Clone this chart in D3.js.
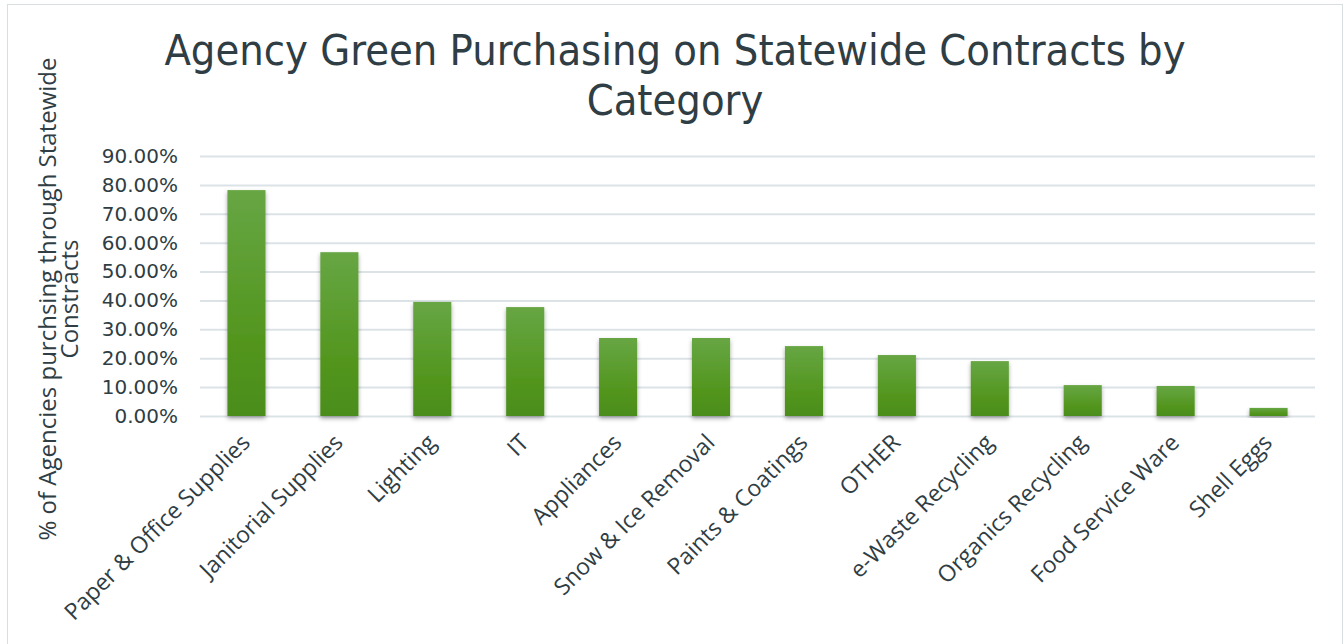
<!DOCTYPE html>
<html>
<head>
<meta charset="utf-8">
<script src="https://cdn.jsdelivr.net/npm/d3@7"></script>
<style>
  html, body { margin: 0; padding: 0; background: #ffffff; }
  svg { display: block; }
</style>
</head>
<body>
<svg id="chart" width="1344" height="644"></svg>
<script>
// Share of agencies buying green products through statewide contracts
const categories = [
  "Paper & Office Supplies", "Janitorial Supplies", "Lighting", "IT",
  "Appliances", "Snow & Ice Removal", "Paints & Coatings", "OTHER",
  "e-Waste Recycling", "Organics Recycling", "Food Service Ware", "Shell Eggs"
];
const shares = [0.782, 0.567, 0.395, 0.377, 0.270, 0.270, 0.242, 0.211, 0.190, 0.107, 0.104, 0.028];
const yTicks = [0, 0.1, 0.2, 0.3, 0.4, 0.5, 0.6, 0.7, 0.8, 0.9];
const titleLines = ["Agency Green Purchasing on Statewide Contracts by", "Category"];
const yTitleLines = ["% of Agencies purchsing through Statewide", "Constracts"];

const W = 1344, H = 644;
const plot = { left: 200, right: 1315, top: 156, bottom: 416 };
const textColor = "#2f3d44";
const headFont = "'DejaVu Sans Condensed', 'DejaVu Sans', sans-serif";
const tickFont = "'DejaVu Sans', sans-serif";
const bodyFont = "'Open Sans', 'Noto Sans', sans-serif";

const svg = d3.select("#chart");

// outer frame (bottom edge runs past the page)
svg.append("rect")
  .attr("x", 7.5).attr("y", 4.5)
  .attr("width", W - 9).attr("height", H + 10)
  .attr("fill", "#fff").attr("stroke", "#d9dee1").attr("stroke-width", 1);

const defs = svg.append("defs");
const grad = defs.append("linearGradient")
  .attr("id", "barFill").attr("x1", 0).attr("y1", 0).attr("x2", 0).attr("y2", 1);
grad.append("stop").attr("offset", "0%").attr("stop-color", "#67a644");
grad.append("stop").attr("offset", "65%").attr("stop-color", "#53961f");
grad.append("stop").attr("offset", "100%").attr("stop-color", "#4b8d1c");

const shadow = defs.append("filter").attr("id", "barShadow")
  .attr("x", "-30%").attr("y", "-10%").attr("width", "160%").attr("height", "130%");
shadow.append("feDropShadow")
  .attr("dx", 0).attr("dy", 2.5).attr("stdDeviation", 2.2)
  .attr("flood-color", "#000").attr("flood-opacity", 0.35);

const x = d3.scaleBand()
  .domain(categories)
  .range([plot.left, plot.right])
  .paddingInner(0.59).paddingOuter(0.295);

const y = d3.scaleLinear().domain([0, 0.9]).range([plot.bottom, plot.top]);

// gridlines + y labels
const yAxis = d3.axisLeft(y)
  .tickValues(yTicks)
  .tickFormat(d3.format(".2%"))
  .tickSize(-(plot.right - plot.left))
  .tickPadding(22);

const gy = svg.append("g")
  .attr("transform", `translate(${plot.left},0)`)
  .call(yAxis);
gy.select(".domain").remove();
gy.selectAll(".tick line").attr("stroke", "#dbe3e7").attr("stroke-width", 2);
gy.selectAll(".tick text")
  .attr("fill", textColor)
  .style("font-family", tickFont)
  .style("font-size", "20px");

// bars
svg.append("g").selectAll("rect")
  .data(categories)
  .join("rect")
  .attr("x", d => x(d))
  .attr("width", x.bandwidth())
  .attr("y", (d, i) => y(shares[i]))
  .attr("height", (d, i) => y(0) - y(shares[i]))
  .attr("fill", "url(#barFill)")
  .attr("filter", "url(#barShadow)");

// category labels
const gx = svg.append("g")
  .attr("transform", `translate(0,${plot.bottom})`)
  .call(d3.axisBottom(x).tickSize(0).tickPadding(0));
gx.select(".domain").remove();
gx.selectAll(".tick text")
  .attr("fill", textColor)
  .style("font-family", bodyFont)
  .style("font-size", "23px")
  .attr("text-anchor", "end")
  .attr("dy", 0)
  .attr("transform", "translate(5,28) rotate(-45)");

// chart title
const title = svg.append("text")
  .attr("text-anchor", "middle")
  .attr("fill", textColor)
  .style("font-family", headFont)
  .style("font-size", "43px");
title.selectAll("tspan")
  .data(titleLines)
  .join("tspan")
  .attr("x", 675)
  .attr("y", (d, i) => 65 + i * 50)
  .text(d => d);

// y axis title
const yTitle = svg.append("text")
  .attr("transform", "rotate(-90)")
  .attr("text-anchor", "middle")
  .attr("fill", textColor)
  .style("font-family", bodyFont)
  .style("font-size", "24px");
yTitle.selectAll("tspan")
  .data(yTitleLines)
  .join("tspan")
  .attr("x", -299)
  .attr("y", (d, i) => 56 + i * 22)
  .text(d => d);
</script>
</body>
</html>
